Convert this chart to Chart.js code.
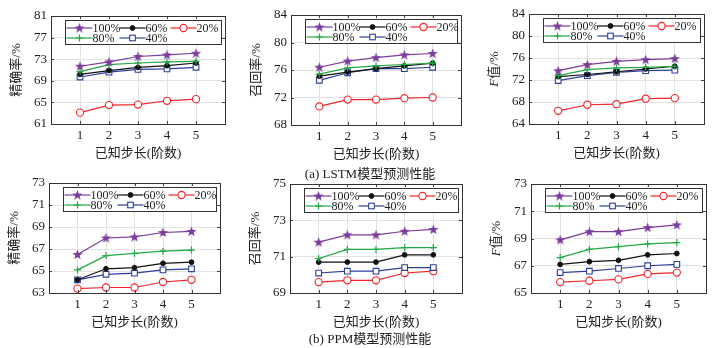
<!DOCTYPE html>
<html>
<head>
<meta charset="utf-8">
<script src="https://cdn.jsdelivr.net/npm/chart.js@4.4.1/dist/chart.umd.min.js"></script>
<style>
body { margin: 0; background: #fff; width: 714px; height: 348px; position: relative; overflow: hidden;
       font-family: "Liberation Serif", "Noto Sans CJK SC", serif; }
canvas { position: absolute; left: 0; top: 0; }
.cap { position: absolute; font-size: 13px; color: #222; white-space: nowrap; transform: translateX(-50%); }
</style>
</head>
<body>
<canvas id="c1" width="714" height="348"></canvas>
<canvas id="c2" width="714" height="348"></canvas>
<canvas id="c3" width="714" height="348"></canvas>
<canvas id="c4" width="714" height="348"></canvas>
<canvas id="c5" width="714" height="348"></canvas>
<canvas id="c6" width="714" height="348"></canvas>
<div class="cap" style="left:370px;top:163px">(a) LSTM模型预测性能</div>
<div class="cap" style="left:370px;top:328px">(b) PPM模型预测性能</div>
<script>
// 데이터
const steps = [1, 2, 3, 4, 5];
const seriesLabels = ["100%", "80%", "60%", "40%", "20%"];

const lstmPrecision = [
    [71.7, 72.5, 73.5, 73.8, 74.1],
    [70.7, 72.0, 72.3, 72.5, 72.6],
    [70.2, 70.9, 71.5, 71.8, 72.3],
    [69.7, 70.6, 71.1, 71.2, 71.5],
    [63.1, 64.5, 64.6, 65.3, 65.6],
];
const lstmRecall = [
    [76.4, 77.3, 77.8, 78.2, 78.4],
    [75.4, 76.3, 76.6, 76.8, 77.0],
    [75.1, 75.7, 76.2, 76.6, 77.0],
    [74.5, 75.6, 76.2, 76.2, 76.4],
    [70.7, 71.7, 71.7, 71.9, 72.0],
];
const lstmF = [
    [73.7, 74.8, 75.4, 75.7, 75.9],
    [72.8, 73.9, 74.2, 74.3, 74.5],
    [72.6, 73.0, 73.5, 74.0, 74.5],
    [71.9, 72.8, 73.4, 73.7, 73.8],
    [66.4, 67.5, 67.6, 68.6, 68.7],
];
const ppmPrecision = [
    [66.5, 68.0, 68.1, 68.5, 68.6],
    [65.1, 66.4, 66.6, 66.8, 66.9],
    [64.2, 65.2, 65.3, 65.7, 65.8],
    [64.2, 64.7, 64.8, 65.1, 65.2],
    [63.4, 63.5, 63.5, 64.0, 64.2],
];
const ppmRecall = [
    [71.8, 72.2, 72.2, 72.4, 72.5],
    [70.9, 71.4, 71.4, 71.5, 71.5],
    [70.7, 70.7, 70.7, 71.1, 71.1],
    [70.1, 70.2, 70.2, 70.4, 70.4],
    [69.6, 69.7, 69.7, 70.1, 70.2],
];
const ppmF = [
    [68.9, 69.5, 69.5, 69.8, 70.0],
    [67.6, 68.2, 68.4, 68.6, 68.7],
    [67.1, 67.3, 67.4, 67.8, 67.9],
    [66.5, 66.6, 66.8, 67.0, 67.1],
    [65.8, 65.9, 66.0, 66.4, 66.5],
];

const lstmPrecisionTicks = [61, 65, 69, 73, 77, 81];
const lstmRecallTicks = [68, 72, 76, 80, 84];
const lstmFTicks = [64, 68, 72, 76, 80, 84];
const ppmPrecisionTicks = [63, 65, 67, 69, 71, 73];
const ppmRecallTicks = [69, 71, 73, 75];
const ppmFTicks = [65, 67, 69, 71, 73];

const xTitle = "已知步长(阶数)";

// 스타일
const FONT = "'Liberation Serif', 'Noto Sans CJK SC', serif";
const colors = ["#7b3c9c", "#22a845", "#111111", "#2c3f9e", "#f0262a"];

function makeStar(color) {
    const c = document.createElement("canvas");
    c.width = 11;
    c.height = 11;
    const g = c.getContext("2d");
    g.fillStyle = color;
    g.beginPath();
    for (let i = 0; i < 10; i++) {
        const r = i % 2 === 0 ? 5.4 : 2.2;
        const a = -Math.PI / 2 + (i * Math.PI) / 5;
        g.lineTo(5.5 + r * Math.cos(a), 5.8 + r * Math.sin(a));
    }
    g.closePath();
    g.fill();
    return c;
}
const starImg = makeStar(colors[0]);

const markerStyles = [
    { pointStyle: starImg, pointRadius: 5, pointBackgroundColor: colors[0] },
    { pointStyle: "cross", pointRadius: 3.5, pointBorderWidth: 1.2, pointBackgroundColor: colors[1] },
    { pointStyle: "circle", pointRadius: 2.4, pointBorderWidth: 1, pointBackgroundColor: colors[2] },
    { pointStyle: "rect", pointRadius: 4, pointBorderWidth: 1.1, pointBackgroundColor: "#fff" },
    { pointStyle: "circle", pointRadius: 3.6, pointBorderWidth: 1.1, pointBackgroundColor: "#fff" },
];

function drawMarker(ctx, i, x, y) {
    const m = markerStyles[i];
    ctx.save();
    ctx.strokeStyle = colors[i];
    ctx.fillStyle = m.pointBackgroundColor;
    ctx.lineWidth = m.pointBorderWidth || 1;
    if (i === 0) {
        ctx.drawImage(starImg, x - 5.5, y - 5.5);
    } else if (m.pointStyle === "cross") {
        ctx.beginPath();
        ctx.moveTo(x - 3.5, y); ctx.lineTo(x + 3.5, y);
        ctx.moveTo(x, y - 3.5); ctx.lineTo(x, y + 3.5);
        ctx.stroke();
    } else if (m.pointStyle === "rect") {
        ctx.fillRect(x - 2.8, y - 2.8, 5.6, 5.6);
        ctx.strokeRect(x - 2.8, y - 2.8, 5.6, 5.6);
    } else {
        ctx.beginPath();
        ctx.arc(x, y, m.pointRadius, 0, Math.PI * 2);
        ctx.fill();
        ctx.stroke();
    }
    ctx.restore();
}

// 테두리, 범례, y축 제목
const framePlugin = {
    id: "frame",
    afterDraw(chart, args, opts) {
        const { ctx, chartArea: a } = chart;
        ctx.save();
        // inner ticks
        ctx.strokeStyle = "#444";
        ctx.lineWidth = 1;
        ctx.beginPath();
        chart.scales.x.ticks.forEach((t) => {
            const px = Math.round(chart.scales.x.getPixelForValue(t.value)) + 0.5;
            ctx.moveTo(px, a.bottom); ctx.lineTo(px, a.bottom - 3);
            ctx.moveTo(px, a.top); ctx.lineTo(px, a.top + 3);
        });
        chart.scales.y.ticks.forEach((t) => {
            const py = Math.round(chart.scales.y.getPixelForValue(t.value)) + 0.5;
            ctx.moveTo(a.left, py); ctx.lineTo(a.left + 3, py);
            ctx.moveTo(a.right, py); ctx.lineTo(a.right - 3, py);
        });
        ctx.stroke();
        // box
        ctx.strokeStyle = "#333";
        ctx.strokeRect(Math.round(a.left) + 0.5, Math.round(a.top) + 0.5,
            Math.round(a.right - a.left), Math.round(a.bottom - a.top));

        // legend
        const lx = Math.round(a.left + 14) + 0.5;
        const ty = Math.round(a.top + 4) + 0.5;
        const lw = Math.round(a.right - 4 - lx);
        ctx.fillStyle = "#fff";
        ctx.fillRect(lx, ty, lw, 24);
        ctx.strokeStyle = "#333";
        ctx.strokeRect(lx, ty, lw, 24);
        const colX = [1, 54, 105];
        ctx.font = "12px " + FONT;
        ctx.textBaseline = "middle";
        ctx.textAlign = "left";
        seriesLabels.forEach((lab, i) => {
            const sx = lx + colX[Math.floor(i / 2)];
            const sy = ty + 7.5 + (i % 2) * 10;
            ctx.strokeStyle = colors[i];
            ctx.lineWidth = 1.2;
            ctx.beginPath();
            ctx.moveTo(sx, sy);
            ctx.lineTo(sx + 26, sy);
            ctx.stroke();
            drawMarker(ctx, i, sx + 13, sy);
            ctx.fillStyle = "#222";
            ctx.fillText(lab, sx + 26, sy + 1);
        });

        // y title
        ctx.translate(a.left - 34, (a.top + a.bottom) / 2);
        ctx.rotate(-Math.PI / 2);
        ctx.fillStyle = "#222";
        ctx.textBaseline = "middle";
        const parts = opts.yTitle;
        let total = 0;
        parts.forEach((p) => {
            ctx.font = (p.italic ? "italic " : "") + "13px " + FONT;
            total += ctx.measureText(p.text).width;
        });
        let cx = -total / 2;
        parts.forEach((p) => {
            ctx.font = (p.italic ? "italic " : "") + "13px " + FONT;
            ctx.fillText(p.text, cx, 0);
            cx += ctx.measureText(p.text).width;
        });
        ctx.restore();
    },
};

function drawPanel(id, values, yTicks, yTitle, area) {
    const ctx = document.getElementById(id).getContext("2d");
    const datasets = seriesLabels.map((lab, i) => ({
        label: lab,
        data: steps.map((s, j) => ({ x: s, y: values[i][j] })),
        borderColor: colors[i],
        borderWidth: 1.2,
        pointBorderColor: colors[i],
        ...markerStyles[i],
    }));

    new Chart(ctx, {
        type: "line",
        data: { datasets },
        plugins: [framePlugin],
        options: {
            responsive: false,
            animation: false,
            layout: {
                padding: {
                    left: area.l - 40,
                    top: area.t,
                    right: 714 - area.r,
                    bottom: 348 - area.b - 40,
                },
            },
            plugins: {
                legend: { display: false },
                tooltip: { enabled: false },
                frame: { yTitle },
            },
            scales: {
                x: {
                    type: "linear",
                    min: 0,
                    max: 6,
                    afterBuildTicks: (s) => { s.ticks = steps.map((v) => ({ value: v })); },
                    afterFit: (s) => { s.height = 40; },
                    grid: { color: "#e2e2e2", drawTicks: false },
                    border: { display: false },
                    ticks: { padding: 4, color: "#222", font: { family: FONT, size: 13 } },
                    title: {
                        display: true,
                        text: xTitle,
                        color: "#222",
                        font: { family: FONT, size: 13 },
                        padding: { top: 0, bottom: 3 },
                    },
                },
                y: {
                    min: yTicks[0],
                    max: yTicks[yTicks.length - 1],
                    afterBuildTicks: (s) => { s.ticks = yTicks.map((v) => ({ value: v })); },
                    afterFit: (s) => { s.width = 40; },
                    grid: { color: "#e2e2e2", drawTicks: false },
                    border: { display: false },
                    ticks: { padding: 4, color: "#222", font: { family: FONT, size: 13 } },
                },
            },
        },
    });
}

const F = [{ text: "F", italic: true }, { text: "值/%" }];
drawPanel("c1", lstmPrecision, lstmPrecisionTicks, [{ text: "精确率/%" }], { l: 51, t: 16, r: 225, b: 124 });
drawPanel("c2", lstmRecall, lstmRecallTicks, [{ text: "召回率/%" }], { l: 291, t: 15, r: 461, b: 125 });
drawPanel("c3", lstmF, lstmFTicks, F, { l: 529, t: 14, r: 704, b: 124 });
drawPanel("c4", ppmPrecision, ppmPrecisionTicks, [{ text: "精确率/%" }], { l: 49, t: 183, r: 220, b: 293 });
drawPanel("c5", ppmRecall, ppmRecallTicks, [{ text: "召回率/%" }], { l: 290, t: 184, r: 462, b: 293 });
drawPanel("c6", ppmF, ppmFTicks, F, { l: 531, t: 184, r: 706, b: 293 });
</script>
</body>
</html>
